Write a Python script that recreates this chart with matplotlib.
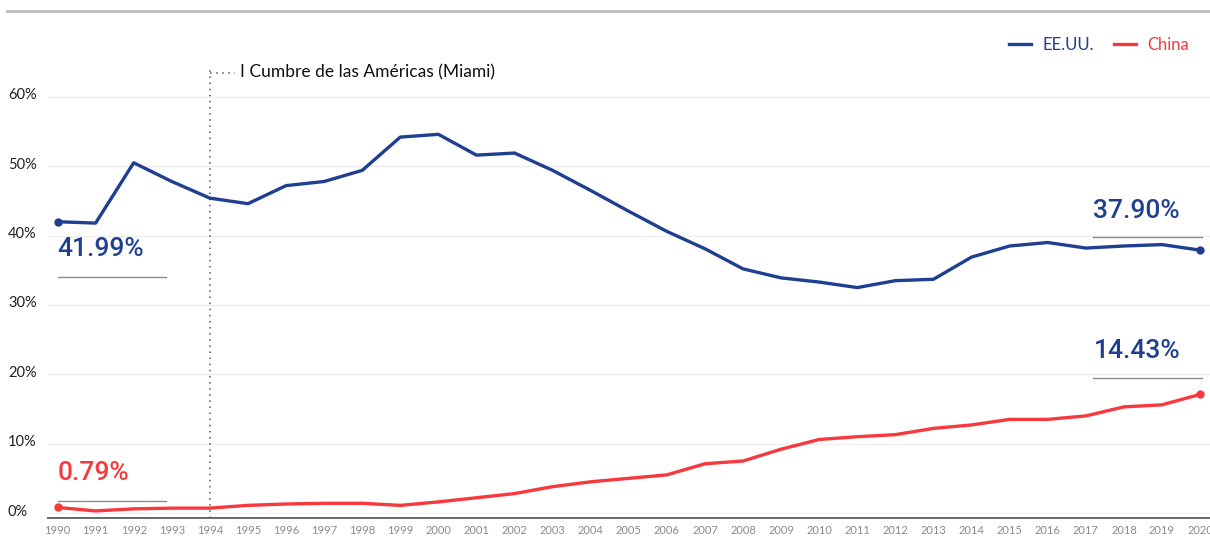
import matplotlib
matplotlib.use("Agg")
import matplotlib.pyplot as plt
from matplotlib.lines import Line2D
from matplotlib.transforms import ScaledTranslation

# Data (share in %).
years = list(range(1990, 2021))
eeuu = [42.0, 41.8, 50.5, 47.8, 45.4, 44.6, 47.2, 47.8, 49.4, 54.2, 54.6, 51.6, 51.9,
        49.4, 46.5, 43.5, 40.6, 38.1, 35.2, 33.9, 33.3, 32.5, 33.5, 33.7, 36.9, 38.5,
        39.0, 38.2, 38.5, 38.7, 37.9]
china = [0.8, 0.3, 0.6, 0.7, 0.7, 1.1, 1.3, 1.4, 1.4, 1.1, 1.6, 2.2, 2.8,
         3.8, 4.5, 5.0, 5.5, 7.1, 7.5, 9.2, 10.6, 11.0, 11.3, 12.2, 12.7, 13.5,
         13.5, 14.0, 15.3, 15.6, 17.1]
y_ticks = [0, 10, 20, 30, 40, 50, 60]
y_labels = ["0%", "10%", "20%", "30%", "40%", "50%", "60%"]
callouts = [  # text, colour, x, y text, y rule
    ("41.99%", "blue", 1990.0, 38.1, 34.0),
    ("0.79%", "red", 1990.0, 5.8, 1.7),
    ("37.90%", "blue", 2017.2, 43.6, 39.8),
    ("14.43%", "blue", 2017.2, 23.4, 19.5),
]
event_year = 1994
event_label = "I Cumbre de las Américas (Miami)"

BLUE = "#203f91"
RED = "#f7383d"
colors = {"blue": BLUE, "red": RED}

plt.rcParams["font.family"] = ["Lato", "DejaVu Sans"]

fig = plt.figure(figsize=(12.1, 5.39), dpi=100)
ax = fig.add_axes([48 / 1210, 21 / 539, 1162 / 1210, 435 / 539])

ax.plot(years, eeuu, color=BLUE, lw=2.4, solid_capstyle="round", zorder=3)
ax.plot(years, china, color=RED, lw=2.4, solid_capstyle="round", zorder=3)
for s, c in ((eeuu, BLUE), (china, RED)):
    ax.plot([years[0], years[-1]], [s[0], s[-1]], "o", color=c, ms=5, zorder=4)

ax.set_xlim(1989.75, 2020.26)
ax.set_ylim(-0.72, 62.0)
ax.set_xticks(years)
ax.set_xticklabels([str(y) for y in years], fontsize=8, color="#8a8a8a")
ax.set_yticks(y_ticks)
ax.set_yticklabels(y_labels, fontsize=10.5, color="#222222", ha="left")
ax.tick_params(axis="y", length=0, pad=28.8)
ax.tick_params(axis="x", length=0, pad=5)
for lab in ax.get_yticklabels():
    lab.set_transform(lab.get_transform() + ScaledTranslation(0, 3 / 100, fig.dpi_scale_trans))
ax.grid(axis="y", color="#eeeeee", lw=1)
ax.set_axisbelow(True)
for side in ("top", "right", "left"):
    ax.spines[side].set_visible(False)
ax.spines["bottom"].set_color("#666666")
ax.spines["bottom"].set_linewidth(1.4)

# event marker
ax.plot([event_year, event_year], [-0.72, 63.9], ls=(0, (1, 3)), color="#555555",
        lw=1.1, clip_on=False)
ax.plot([event_year, event_year + 0.65], [63.5, 63.5], ls=(0, (1, 3)), color="#555555",
        lw=1.1, clip_on=False)
ax.text(event_year + 0.78, 63.5, event_label, fontsize=12.5, va="center", ha="left",
        color="#111111", clip_on=False)

# callouts
for txt, c, x, yt, yr in callouts:
    ax.text(x, yt, txt, color=colors[c], fontsize=19, fontfamily=["Roboto", "DejaVu Sans"],
            fontweight="medium", va="center", ha="left")
    ax.plot([x, x + 2.84], [yr, yr], color="#8c8c8c", lw=1)

# top rule
fig.add_artist(Line2D([7 / 1210, 1], [1 - 11 / 539, 1 - 11 / 539], color="#bdbdbd", lw=2))

handles = [Line2D([], [], color=BLUE, lw=2.4), Line2D([], [], color=RED, lw=2.4)]
fig.legend(handles, ["EE.UU.", "China"], loc="center right", bbox_to_anchor=(0.995, 1 - 45 / 539),
           ncol=2, frameon=False, fontsize=12, labelcolor=[BLUE, RED], handlelength=1.3,
           handletextpad=0.7, columnspacing=1.2)

fig.savefig("out.png", dpi=100)
